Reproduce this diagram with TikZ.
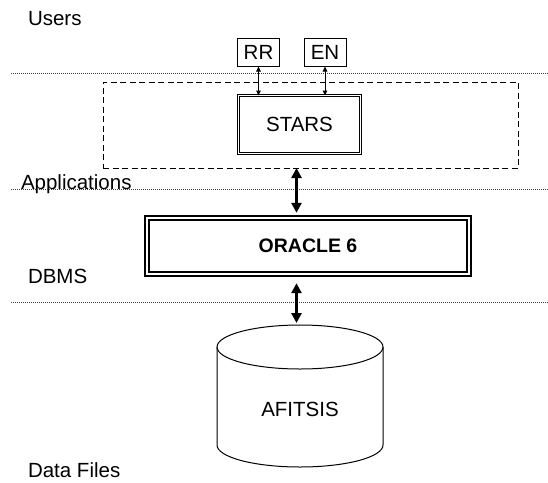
\documentclass[tikz,border=0pt]{standalone}
\usepackage{fontspec}
\setmainfont{Liberation Sans}
\usetikzlibrary{arrows.meta,calc}
\begin{document}
\begin{tikzpicture}[x=1pt,y=-1pt,
  every node/.style={font=\fontsize{20.5}{24}\selectfont, inner sep=0pt, outer sep=0pt},
  lbl/.style={anchor=base west},
  sepline/.style={line width=0.7pt, black!75, dash pattern=on 0.8pt off 1.2pt},
  smallbox/.style={draw, line width=1pt, minimum width=42pt, minimum height=28pt},
  layerbox/.style={draw, line width=1pt, dash pattern=on 6pt off 3.5pt},
  thinframe/.style={draw, double, double distance=1.3pt, line width=0.9pt},
  thickframe/.style={draw, double, double distance=2.4pt, line width=1.6pt},
  thinarrow/.style={line width=1pt, {Triangle[length=5pt,width=4.5pt]}-{Triangle[length=5pt,width=4.5pt]}},
  bigarrow/.style={line width=2.6pt, {Triangle[length=10pt,width=10pt]}-{Triangle[length=10pt,width=10pt]}},
  cyl/.style={line width=1pt}
]
\useasboundingbox[fill=white] (0,0) rectangle (548,482);

% layer labels
\node[lbl] (users) at (28,25) {Users};
\node[lbl] (apps) at (21,189) {Applications};
\node[lbl] (dbms) at (28,283) {DBMS};
\node[lbl] (files) at (28,477) {Data Files};

% separator lines
\draw[sepline] (11,73) -- (548,73);
\draw[sepline] (11,189) -- (548,189);
\draw[sepline] (11,302) -- (548,302);

% users
\node[smallbox] (rr) at (258.5,52.5) {RR};
\node[smallbox] (en) at (325,52.5) {EN};

% application layer
\node[layerbox, minimum width=415pt, minimum height=86pt] (appbox) at (310.5,125) {};
\node[thinframe, minimum width=121.9pt, minimum height=57.9pt] (stars) at (299.5,124.5) {STARS};

% DBMS
\node[thickframe, minimum width=322.4pt, minimum height=56.4pt] (ora) at (308,246)
  {\raisebox{-3pt}{\fontsize{19.5}{24}\selectfont\bfseries ORACLE 6}};

% data files cylinder
\draw[cyl] (217,347) -- (217,445)
  arc[start angle=180, end angle=360, x radius=83pt, y radius=22pt] -- (383,347);
\draw[cyl] (300,347) ellipse[x radius=83pt, y radius=22pt];
\coordinate (cyltop) at (300,325);
\node (afit) at (300,409.5) {AFITSIS};

% connectors
\draw[thinarrow] (rr.south) -- (rr.south |- stars.north);
\draw[thinarrow] (en.south) -- (en.south |- stars.north);
\coordinate (ax) at (296.5,0);
\draw[bigarrow, shorten >=5pt] (ax |- appbox.south) -- (ax |- ora.north);
\draw[bigarrow, shorten <=9pt, shorten >=2pt] (ax |- ora.south) -- (ax |- cyltop);
\end{tikzpicture}
\end{document}
